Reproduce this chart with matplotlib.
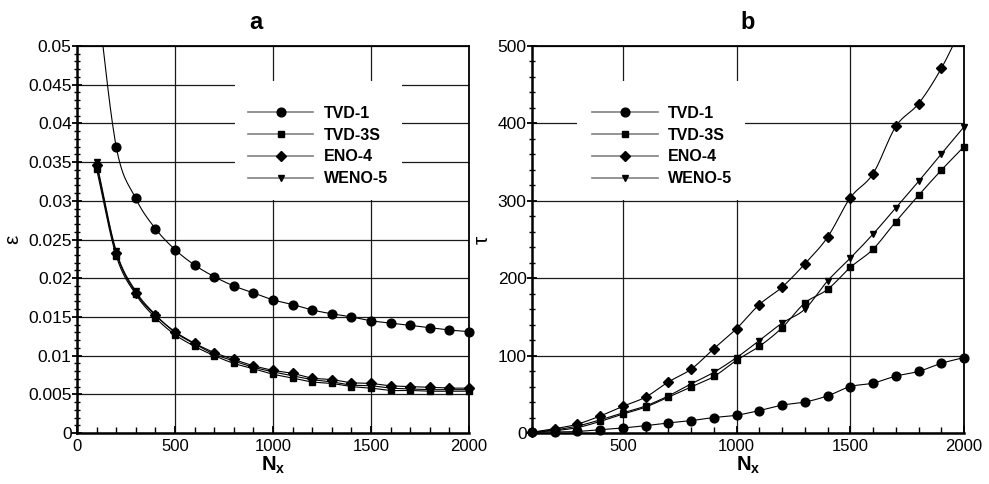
import numpy as np
import matplotlib
matplotlib.use("Agg")
import matplotlib.pyplot as plt
from matplotlib.lines import Line2D
from matplotlib.patches import Rectangle
from matplotlib.ticker import MultipleLocator, FormatStrFormatter

plt.rcParams['font.family'] = ['Liberation Sans', 'DejaVu Sans']
plt.rcParams['mathtext.fontset'] = 'custom'
plt.rcParams['mathtext.bf'] = 'Liberation Sans:bold'
plt.rcParams['mathtext.rm'] = 'Liberation Sans'

# ---------------- data ----------------
nx = [100, 200, 300, 400, 500, 600, 700, 800, 900, 1000,
      1100, 1200, 1300, 1400, 1500, 1600, 1700, 1800, 1900, 2000]

series_names = ['TVD-1', 'TVD-3S', 'ENO-4', 'WENO-5']

eps_tvd1 = [0.0570, 0.0370, 0.0303, 0.0264, 0.0237, 0.0217, 0.0202, 0.0190, 0.0181, 0.0172,
            0.0166, 0.0159, 0.0154, 0.0150, 0.0145, 0.0142, 0.0139, 0.0136, 0.0133, 0.0131]
eps_tvd3s = [0.0341, 0.0229, 0.0179, 0.0149, 0.0127, 0.0112, 0.0100, 0.0090, 0.0083, 0.0076,
             0.0071, 0.0066, 0.0064, 0.0060, 0.0058, 0.0055, 0.0055, 0.0054, 0.0054, 0.0054]
eps_eno4 = [0.0346, 0.0233, 0.0181, 0.0152, 0.0131, 0.0116, 0.0104, 0.0095, 0.0087, 0.0081,
            0.0077, 0.0071, 0.0069, 0.0065, 0.0064, 0.0061, 0.0060, 0.0059, 0.0058, 0.0058]
eps_weno5 = [0.0350, 0.0235, 0.0183, 0.0153, 0.0130, 0.0115, 0.0102, 0.0093, 0.0085, 0.0079,
             0.0074, 0.0069, 0.0066, 0.0062, 0.0061, 0.0058, 0.0057, 0.0056, 0.0056, 0.0056]

tau_tvd1 = [0.9, 1.3, 2.0, 4.3, 6.5, 9.5, 13, 16, 20, 23,
            29, 36, 40, 48, 60, 64.5, 73.5, 79.5, 90, 97.5]
tau_tvd3s = [1, 3, 7, 15, 24.5, 33.5, 46.5, 59.5, 73, 94,
             112, 136, 168, 185.5, 214, 237.5, 273, 307, 339.5, 370]
tau_eno4 = [1, 5.5, 11.5, 22, 34.5, 46.5, 66, 82.5, 109, 135,
            166, 188.5, 218.5, 253, 304, 335, 396, 425.5, 471, 530]
tau_weno5 = [1, 4, 9, 17, 26, 35, 48, 63.5, 78.5, 97.5,
             119.5, 142, 160, 196.5, 226, 257, 291, 325, 360.5, 395.5]

markers = ['o', 's', 'D', 'v']
msizes = [6.3, 4.8, 4.8, 5.0]


def smooth(x, y, n=16):
    """Catmull-Rom curve through the points (for drawing the line only)."""
    x = np.asarray(x, float)
    y = np.asarray(y, float)
    P = np.column_stack([x, y])
    P = np.vstack([2 * P[0] - P[1], P, 2 * P[-1] - P[-2]])
    out = []
    t = np.linspace(0, 1, n, endpoint=False)[:, None]
    for i in range(1, len(P) - 2):
        p0, p1, p2, p3 = P[i - 1], P[i], P[i + 1], P[i + 2]
        seg = 0.5 * ((2 * p1) + (-p0 + p2) * t + (2 * p0 - 5 * p1 + 4 * p2 - p3) * t ** 2
                     + (-p0 + 3 * p1 - 3 * p2 + p3) * t ** 3)
        out.append(seg)
    out.append(P[-2][None, :])
    out = np.vstack(out)
    return out[:, 0], out[:, 1]


fig = plt.figure(figsize=(9.89, 4.84), dpi=100)
axL = fig.add_axes([77 / 989, 51 / 484, 392 / 989, 387 / 484])
axR = fig.add_axes([532 / 989, 51 / 484, 432 / 989, 387 / 484])

grid_kw = dict(color='#1a1a1a', linewidth=0.9)


def style_axes(ax):
    for s in ['left', 'bottom']:
        ax.spines[s].set_linewidth(1.8)
    for s in ['top', 'right']:
        ax.spines[s].set_linewidth(1.3)
    ax.tick_params(axis='y', which='major', direction='inout', length=7, width=1.3,
                   labelsize=12.5, pad=0.3)
    ax.tick_params(axis='y', which='minor', direction='inout', length=4, width=1.0)
    ax.tick_params(axis='x', which='major', direction='in', length=5, width=1.3,
                   labelsize=12, pad=4.5)
    ax.tick_params(axis='x', which='minor', direction='in', length=4, width=1.0)
    ax.grid(True, which='major', **grid_kw)
    ax.set_axisbelow(True)


def draw(ax, ys, ytop):
    for y, m, ms in zip(ys, markers, msizes):
        xs, yy = smooth(nx, y)
        ax.plot(xs, yy, color='black', linewidth=0.8, zorder=3)
        xa = np.asarray(nx, float)
        ya = np.asarray(y, float)
        mask = ya <= ytop
        ax.plot(xa[mask], ya[mask], linestyle='none', marker=m, markersize=ms,
                mfc='black', mec='black', zorder=4, clip_on=False)


def add_legend(ax, box, anchor):
    ax.add_patch(Rectangle((box[0], box[1]), box[2], box[3], transform=ax.transAxes,
                           facecolor='white', edgecolor='none', zorder=2))
    handles = [Line2D([], [], color='#808080', linewidth=1.2, marker=m, markersize=ms,
                      mfc='black', mec='black') for m, ms in zip(markers, msizes)]
    leg = ax.legend(handles, series_names, loc='upper left', bbox_to_anchor=anchor,
                    frameon=False, borderaxespad=0, borderpad=0, handlelength=4.1,
                    handletextpad=0.65, labelspacing=0.42, numpoints=1,
                    prop={'weight': 'bold', 'size': 11.5})
    leg.set_zorder(5)


# ---------------- left panel ----------------
style_axes(axL)
axL.set_xlim(0, 2000)
axL.set_ylim(0, 0.05)
axL.xaxis.set_major_locator(MultipleLocator(500))
axL.xaxis.set_minor_locator(MultipleLocator(100))
axL.yaxis.set_major_locator(MultipleLocator(0.005))
axL.yaxis.set_minor_locator(MultipleLocator(0.001))
axL.yaxis.set_major_formatter(FormatStrFormatter('%g'))
draw(axL, [eps_tvd1, eps_tvd3s, eps_eno4, eps_weno5], 0.05)
add_legend(axL, (0.403, 0.602, 0.426, 0.308), (0.436, 0.845))
axL.set_xlabel(r'$\mathbf{N_x}$', fontsize=14.5, labelpad=0)
axL.set_ylabel('ε', fontsize=15, labelpad=4)
axL.set_title('a', fontsize=17, fontweight='bold', x=0.457, pad=12)

# ---------------- right panel ----------------
style_axes(axR)
axR.set_xlim(100, 2000)
axR.set_ylim(0, 500)
axR.set_xticks([500, 1000, 1500, 2000])
axR.xaxis.set_minor_locator(MultipleLocator(100))
axR.yaxis.set_major_locator(MultipleLocator(100))
axR.yaxis.set_minor_locator(MultipleLocator(20))
draw(axR, [tau_tvd1, tau_tvd3s, tau_eno4, tau_weno5], 500)
add_legend(axR, (0.104, 0.602, 0.389, 0.308), (0.139, 0.845))
axR.set_xlabel(r'$\mathbf{N_x}$', fontsize=14.5, labelpad=0)
axR.set_ylabel('τ', fontsize=15, labelpad=4)
axR.set_title('b', fontsize=17, fontweight='bold', pad=12)

fig.savefig('out.png', dpi=100)
